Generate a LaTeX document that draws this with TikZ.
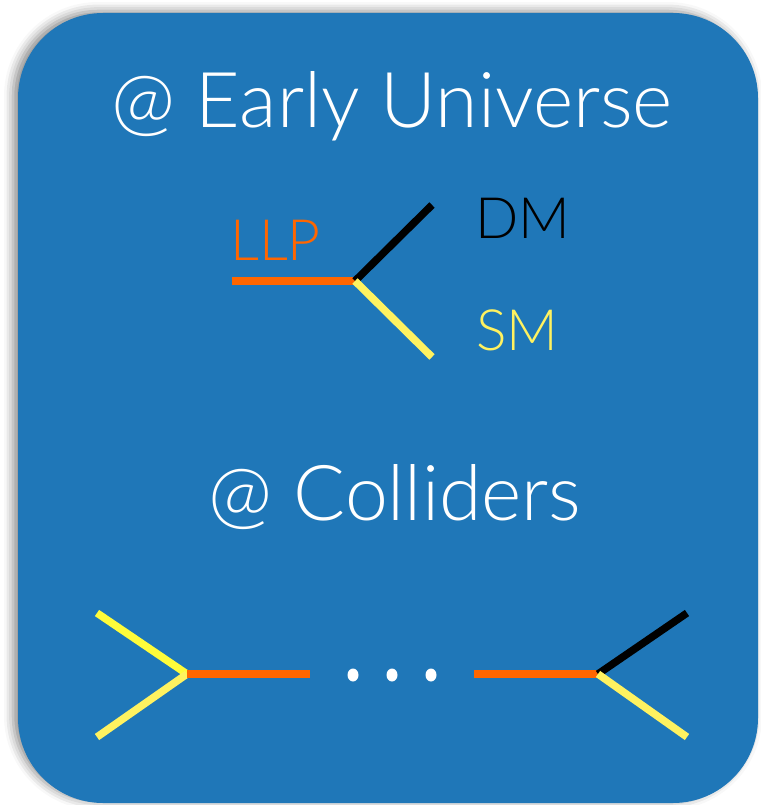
\documentclass[tikz,border=0pt]{standalone}
\usepackage{fontspec}
\setmainfont{Lato}[UprightFont=* Light]
\usetikzlibrary{shadows.blur}

\definecolor{panelblue}{RGB}{31,119,184}
\definecolor{llporange}{RGB}{255,102,0}
\definecolor{smyellow}{RGB}{255,242,96}
\definecolor{inyellow}{RGB}{255,252,58}

\tikzset{
  panel/.style={fill=panelblue, rounded corners=85pt,
    blur shadow={shadow xshift=-5pt, shadow yshift=2pt,
      shadow blur radius=9pt, shadow opacity=45}},
  heading/.style={text=white, anchor=base, inner sep=0pt,
    font=\fontsize{77}{86}\selectfont},
  label/.style={anchor=base west, inner sep=0pt,
    font=\fontsize{57}{66}\selectfont},
  leg/.style={line width=7.5pt, line cap=butt},
}

\begin{document}
\begin{tikzpicture}[x=1pt, y=-1pt]
  \useasboundingbox (0,0) rectangle (760,805);

  % background panel
  \path[panel] (18,13) rectangle (758,803);

  % headings
  \node[heading] (early) at (392,128) {@ Early Universe};
  \node[heading] (coll) at (395,520) {@ Colliders};

  % decay in the early universe
  \coordinate (llpin) at (232,281);
  \coordinate (v0) at (355,281);
  \coordinate (dmend) at (432,205);
  \coordinate (smend) at (432,357);
  \draw[leg, llporange] (llpin) -- (v0);
  \draw[leg, black] (v0) -- (dmend);
  \draw[leg, smyellow] (v0) -- (smend);
  \node[label, text=llporange] (llp) at (230,260) {LLP};
  \node[label, text=black] (dm) at (475,238) {DM};
  \node[label, text=smyellow] (sm) at (476,350) {SM};

  % production and decay at colliders
  \coordinate (inA) at (97,613);
  \coordinate (inB) at (97,737);
  \coordinate (v1) at (187,674);
  \coordinate (l1) at (310,674);
  \coordinate (l2) at (474,674);
  \coordinate (v2) at (598,674);
  \coordinate (outA) at (687,613);
  \coordinate (outB) at (687,737);
  \draw[leg, inyellow] (inA) -- (v1);
  \draw[leg, smyellow] (inB) -- (v1);
  \draw[leg, llporange] (v1) -- (l1);
  \draw[leg, llporange] (l2) -- (v2);
  \draw[leg, black] (v2) -- (outA);
  \draw[leg, smyellow] (v2) -- (outB);
  \fill[white] (353,675) ellipse [x radius=5.5, y radius=6.5];
  \fill[white] (392,675) ellipse [x radius=5.5, y radius=6.5];
  \fill[white] (431,675) ellipse [x radius=5.5, y radius=6.5];
\end{tikzpicture}
\end{document}
